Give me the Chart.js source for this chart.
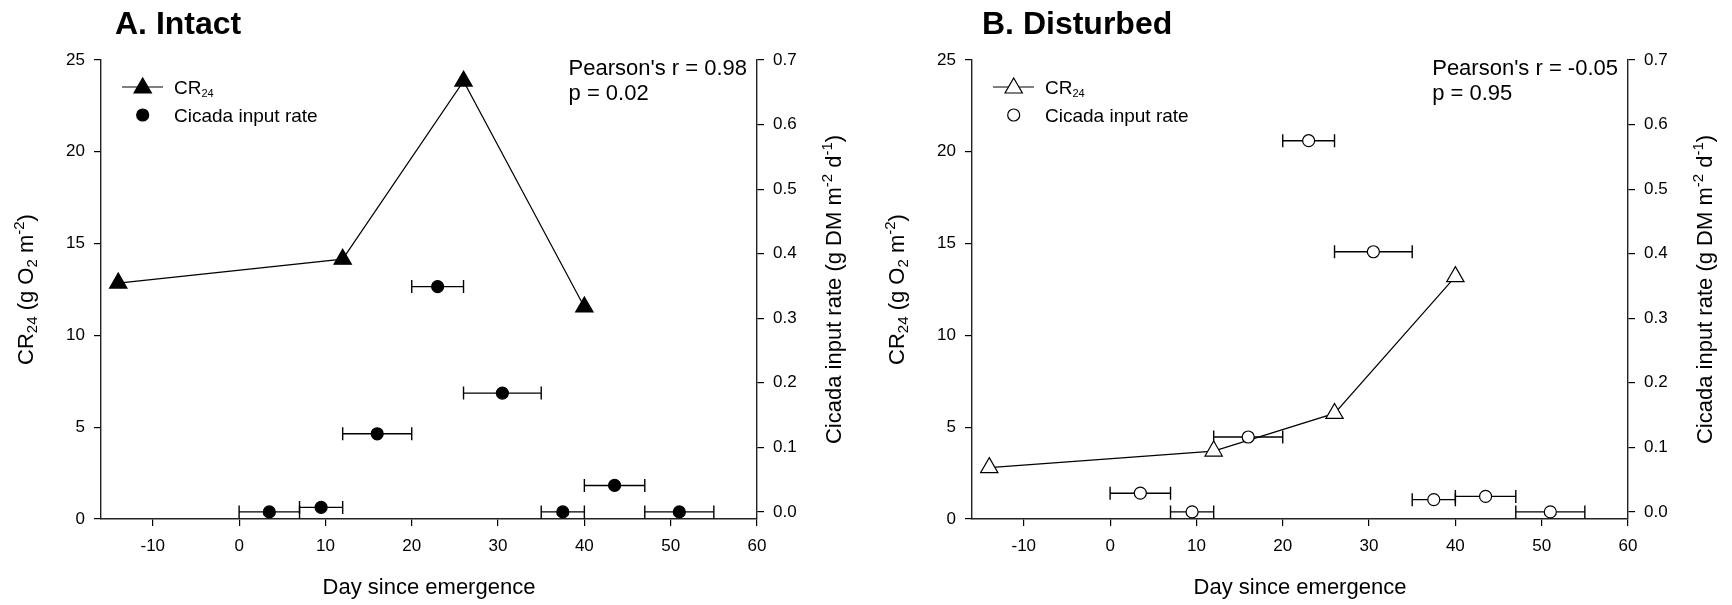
<!DOCTYPE html>
<html>
<head>
<meta charset="utf-8">
<script src="https://cdn.jsdelivr.net/npm/chart.js@4.4.0/dist/chart.umd.min.js"></script>
<style>
  html, body { margin: 0; padding: 0; background: #fff; }
  #wrap { position: relative; width: 1732px; height: 605px; overflow: hidden; }
  canvas { position: absolute; top: 0; }
</style>
</head>
<body>
<div id="wrap">
  <canvas id="panelA" width="866" height="605" style="left:0;width:866px;height:605px"></canvas>
  <canvas id="panelB" width="861" height="605" style="left:871px;width:861px;height:605px"></canvas>
</div>
<script>
// CR24 measurements (triangles, left axis)
const crDays = [-14, 12, 26, 40];
const crIntact = [12.85, 14.15, 23.85, 11.55];
const crDisturbed = [2.8, 3.7, 5.75, 13.2];

// Cicada input rate (circles, right axis) with the sampling window as x error bars
const cicadaDays = [3.5, 9.5, 16, 23, 30.5, 37.5, 43.5, 51];
const cicadaStart = [0, 7, 12, 20, 26, 35, 40, 47];
const cicadaEnd = [7, 12, 20, 26, 35, 40, 47, 55];
const cicadaIntact = [0.0, 0.007, 0.121, 0.349, 0.184, 0.0, 0.041, 0.0];
const cicadaDisturbed = [0.029, 0.0, 0.116, 0.575, 0.403, 0.019, 0.024, 0.0];

// Tick labels
const dayTicks = [-10, 0, 10, 20, 30, 40, 50, 60];
const crTicks = [0, 5, 10, 15, 20, 25];
const rateTicks = [0, 0.1, 0.2, 0.3, 0.4, 0.5, 0.6, 0.7];

const FONT = '"Liberation Sans", Arial, Helvetica, sans-serif';
Chart.defaults.font.family = FONT;
Chart.defaults.color = '#000';

// fixed plot box inside each canvas
const PLOT = { left: 101, right: 757, top: 60, bottom: 519 };

// text with sub/superscript pieces: [text, '' | 'sub' | 'sup']
function drawRich(ctx, parts, x, y, size, align, angle, subScale) {
  const small = Math.round(size * (subScale || 0.66));
  ctx.save();
  ctx.translate(x, y);
  ctx.rotate(angle || 0);
  ctx.textBaseline = 'alphabetic';
  ctx.textAlign = 'left';
  ctx.fillStyle = '#000';
  let total = 0;
  const widths = parts.map(([t, k]) => {
    ctx.font = (k ? small : size) + 'px ' + FONT;
    const w = ctx.measureText(t).width;
    total += w;
    return w;
  });
  let cx = align === 'center' ? -total / 2 : 0;
  parts.forEach(([t, k], i) => {
    ctx.font = (k ? small : size) + 'px ' + FONT;
    const dy = k === 'sub' ? size * 0.2 : k === 'sup' ? -size * 0.4 : 0;
    ctx.fillText(t, cx, dy);
    cx += widths[i];
  });
  ctx.restore();
}

// horizontal error bars for the cicada series
const errorBars = {
  id: 'errorBars',
  beforeDatasetsDraw(chart) {
    const ctx = chart.ctx;
    const meta = chart.getDatasetMeta(0);
    const xs = chart.scales.x;
    ctx.save();
    ctx.strokeStyle = '#000';
    ctx.lineWidth = 1.4;
    meta.data.forEach((pt, i) => {
      const raw = chart.data.datasets[0].data[i];
      const x1 = xs.getPixelForValue(raw.xMin);
      const x2 = xs.getPixelForValue(raw.xMax);
      const y = pt.y;
      ctx.beginPath();
      ctx.moveTo(x1, y); ctx.lineTo(x2, y);
      ctx.moveTo(x1, y - 6.5); ctx.lineTo(x1, y + 6.5);
      ctx.moveTo(x2, y - 6.5); ctx.lineTo(x2, y + 6.5);
      ctx.stroke();
    });
    ctx.restore();
  }
};

// titles, legend, stats text, axis titles
const labels = {
  id: 'labels',
  afterDraw(chart, args, o) {
    const ctx = chart.ctx;
    const a = chart.chartArea;
    ctx.save();
    ctx.fillStyle = '#000';

    // panel title
    ctx.font = 'bold 32px ' + FONT;
    ctx.textBaseline = 'alphabetic';
    ctx.fillText(o.title, o.titleX, 34);

    // legend
    const lx = a.left + 41.7;
    ctx.strokeStyle = '#000';
    ctx.lineWidth = 1.2;
    ctx.beginPath();
    ctx.moveTo(a.left + 21, 87); ctx.lineTo(a.left + 62, 87);
    ctx.stroke();
    ctx.fillStyle = o.fill;
    Chart.helpers.drawPoint(ctx, { pointStyle: 'triangle', radius: 10, borderWidth: 1.2, rotation: 0 }, lx, 88);
    Chart.helpers.drawPoint(ctx, { pointStyle: 'circle', radius: 6, borderWidth: 1.2, rotation: 0 }, lx, 115);
    drawRich(ctx, [['CR', ''], ['24', 'sub']], a.left + 73, 93.5, 19, 'left', 0, 0.58);
    drawRich(ctx, [['Cicada input rate', '']], a.left + 73, 121.5, 19, 'left');

    // correlation text, block right-aligned near right axis
    ctx.fillStyle = '#000';
    ctx.font = '22px ' + FONT;
    const w = ctx.measureText(o.stats[0]).width;
    const sx = a.right - 10 - w;
    ctx.fillText(o.stats[0], sx, 75);
    ctx.fillText(o.stats[1], sx, 100);

    // axis titles
    const cy = (a.top + a.bottom) / 2;
    drawRich(ctx, [['Day since emergence', '']], (a.left + a.right) / 2, 594, 22, 'center');
    drawRich(ctx, [['CR', ''], ['24', 'sub'], [' (g O', ''], ['2', 'sub'], [' m', ''], ['-2', 'sup'], [')', '']],
      a.left - 68, cy, 22, 'center', -Math.PI / 2);
    drawRich(ctx, [['Cicada input rate (g DM m', ''], ['-2', 'sup'], [' d', ''], ['-1', 'sup'], [')', '']],
      a.right + 84, cy, 22, 'center', -Math.PI / 2);
    ctx.restore();
  }
};

function tickAxis(extra) {
  return Object.assign({
    type: 'linear',
    grid: { display: true, drawOnChartArea: false, drawTicks: true, tickLength: 7, color: '#000', lineWidth: 1.2 },
    border: { display: true, color: '#222', width: 1.4 },
    ticks: { font: { size: 17 }, color: '#000' }
  }, extra);
}

function makePanel(id, cr, cicada, fill, title, titleX, stats) {
  const cicadaPoints = cicadaDays.map((d, i) => ({ x: d, y: cicada[i], xMin: cicadaStart[i], xMax: cicadaEnd[i] }));
  const crPoints = crDays.map((d, i) => ({ x: d, y: cr[i] }));
  return new Chart(document.getElementById(id), {
    type: 'scatter',
    data: {
      datasets: [
        {
          label: 'Cicada input rate',
          data: cicadaPoints,
          yAxisID: 'y1',
          showLine: false,
          pointStyle: 'circle',
          pointRadius: 6,
          pointBackgroundColor: fill,
          pointBorderColor: '#000',
          pointBorderWidth: 1.2
        },
        {
          label: 'CR24',
          data: crPoints,
          yAxisID: 'y',
          showLine: true,
          borderColor: '#000',
          borderWidth: 1.2,
          tension: 0,
          pointStyle: 'triangle',
          pointRadius: 10,
          pointBackgroundColor: fill,
          pointBorderColor: '#000',
          pointBorderWidth: 1.2
        }
      ]
    },
    options: {
      responsive: false,
      animation: false,
      events: [],
      clip: false,
      layout: { padding: { top: PLOT.top, left: 0, right: 0, bottom: 0 } },
      plugins: {
        legend: { display: false },
        tooltip: { enabled: false },
        labels: { title, titleX, fill, stats }
      },
      scales: {
        x: tickAxis({
          position: 'bottom', min: -16, max: 60,
          afterBuildTicks: s => { s.ticks = dayTicks.map(v => ({ value: v })); },
          afterFit: s => { s.height = s.chart.height - PLOT.bottom; },
          ticks: { font: { size: 17 }, color: '#000', padding: 10, maxRotation: 0 }
        }),
        y: tickAxis({
          position: 'left', min: 0, max: 25,
          afterBuildTicks: s => { s.ticks = crTicks.map(v => ({ value: v })); },
          afterFit: s => { s.width = PLOT.left; },
          ticks: { font: { size: 17 }, color: '#000', padding: 9 }
        }),
        y1: tickAxis({
          position: 'right', min: -0.011, max: 0.7,
          afterBuildTicks: s => { s.ticks = rateTicks.map(v => ({ value: v })); },
          afterFit: s => { s.width = s.chart.width - PLOT.right; },
          ticks: { font: { size: 17 }, color: '#000', padding: 9, callback: v => v.toFixed(1) }
        })
      }
    },
    plugins: [errorBars, labels]
  });
}

makePanel('panelA', crIntact, cicadaIntact, '#000', 'A. Intact', 115,
  ["Pearson's r = 0.98", 'p = 0.02']);
makePanel('panelB', crDisturbed, cicadaDisturbed, '#fff', 'B. Disturbed', 111,
  ["Pearson's r = -0.05", 'p = 0.95']);
</script>
</body>
</html>
